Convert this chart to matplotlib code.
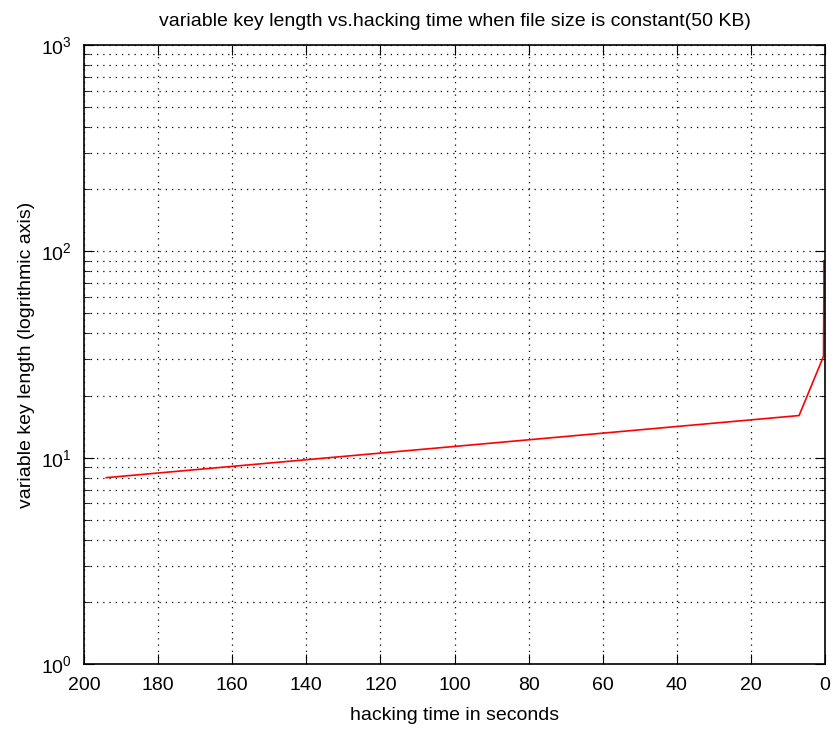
import matplotlib
matplotlib.use('Agg')
import matplotlib.pyplot as plt
import numpy as np
from matplotlib.ticker import LogLocator, NullFormatter

plt.rcParams['font.family'] = ['Liberation Sans Narrow', 'Liberation Sans', 'DejaVu Sans']

# hacking time (s) vs key length
hack_time = [194, 7, 0.4, 0.3, 0.3]
key_len = [8, 16, 31, 64, 90]

xticks = [200, 180, 160, 140, 120, 100, 80, 60, 40, 20, 0]

fig = plt.figure(figsize=(8.34, 7.32), dpi=100)
ax = fig.add_axes([84/834, 68/732, 741/834, 619/732])

ax.semilogy(hack_time, key_len, color='red', lw=1.2)

ax.set_xlim(200, 0)
ax.set_ylim(1, 1000)
ax.set_xticks(xticks)
ax.set_xticklabels([str(t) for t in xticks])
ax.yaxis.set_major_locator(LogLocator(base=10))
ax.yaxis.set_minor_locator(LogLocator(base=10, subs=np.arange(2, 10)))
ax.yaxis.set_minor_formatter(NullFormatter())

ax.grid(True, which='major', axis='both', color='black', linestyle=(0, (1, 4)), lw=0.9)
ax.grid(True, which='minor', axis='y', color='black', linestyle=(0, (1, 4)), lw=0.9)

ax.tick_params(which='both', direction='in', top=True, right=True, labelsize=14)
ax.tick_params(which='major', length=7)
ax.tick_params(which='minor', length=4)
ax.tick_params(axis='x', pad=9)
ax.tick_params(axis='y', pad=9)
for s in ax.spines.values():
    s.set_linewidth(1.2)

ax.set_title('variable key length vs.hacking time when file size is constant(50 KB)', fontsize=14, pad=14)
ax.set_xlabel('hacking time in seconds', fontsize=14, labelpad=10)
ax.set_ylabel('variable key length (logrithmic axis)', fontsize=14, labelpad=4)

fig.savefig('out.png', dpi=100, facecolor='white')
